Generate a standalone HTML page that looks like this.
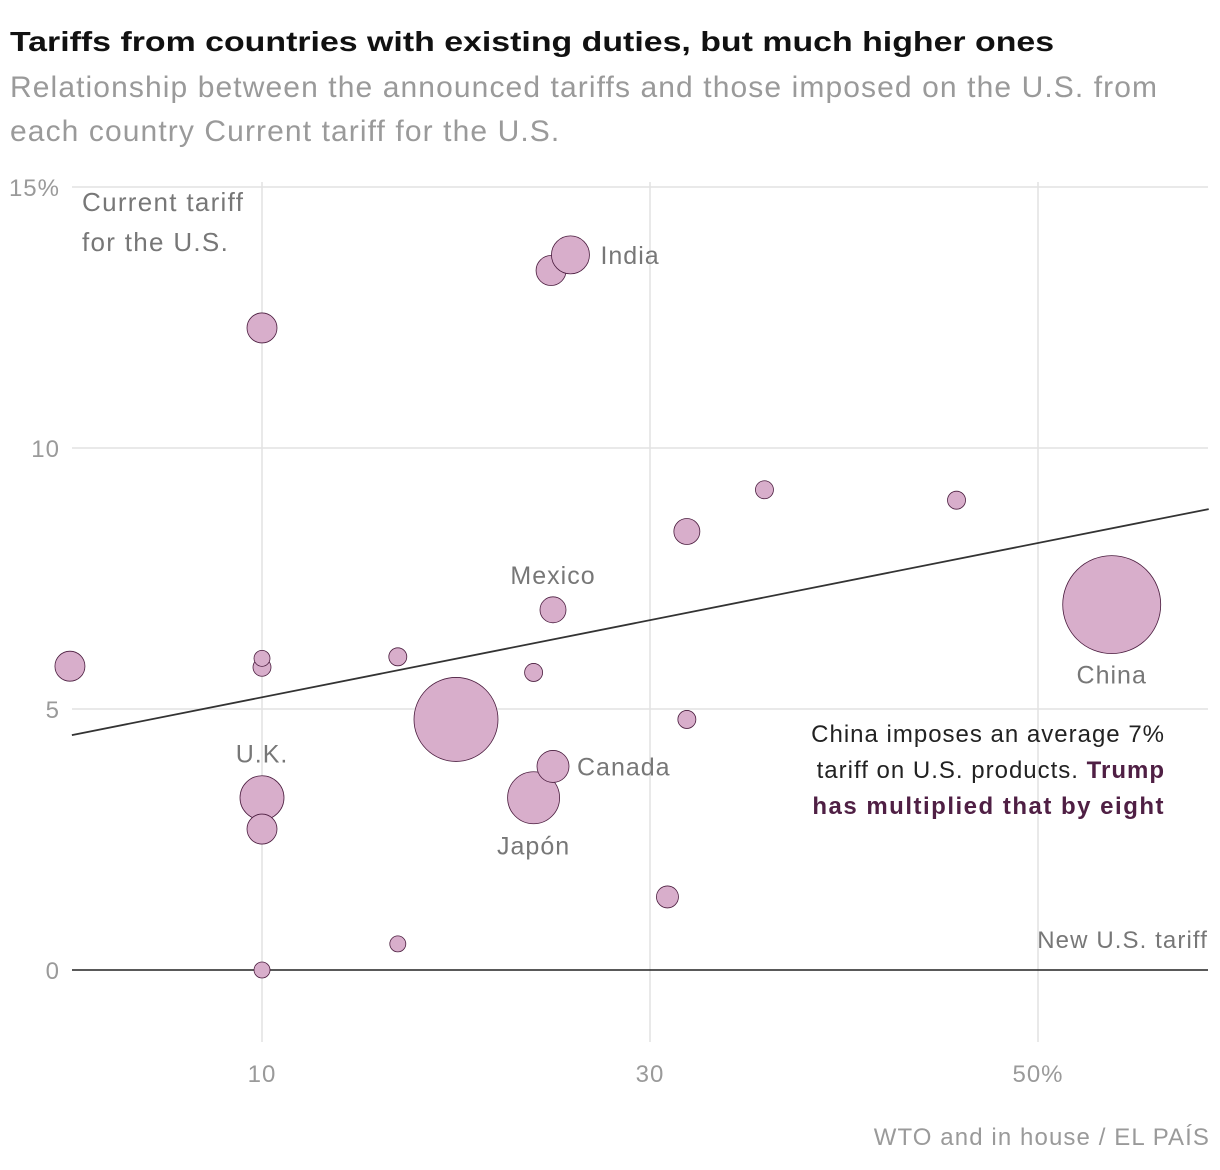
<!DOCTYPE html>
<html><head><meta charset="utf-8"><style>
body{margin:0;background:#fff;font-family:"Liberation Sans",sans-serif;}
#wrap{position:relative;width:1220px;height:1170px;overflow:hidden;}
.t{position:absolute;white-space:nowrap;}
svg text{letter-spacing:1px;}
</style></head><body>
<div id="wrap">
<div class="t" style="left:10px;top:26px;font-size:28px;font-weight:bold;color:#111;transform:scaleX(1.21);transform-origin:left top">Tariffs from countries with existing duties, but much higher ones</div>
<div class="t" style="left:10px;top:66px;font-size:30px;line-height:44px;color:#9a9a9a;white-space:normal;width:1200px;letter-spacing:1.1px">Relationship between the announced tariffs and those imposed on the U.S. from each country Current tariff for the U.S.</div>
<svg id="chart" width="1220" height="1170" style="position:absolute;left:0;top:0"></svg>
<div class="t" style="right:10px;top:1124px;font-size:24px;color:#9a9a9a;letter-spacing:1.1px">WTO and in house / EL PAÍS</div>
</div>
<script>
const xs=[0.1,10,10,10,10,10,10,17,17,20,24,24,25,25,24.9,25.9,30.9,31.9,31.9,35.9,45.8,53.8];
const ys=[5.82,12.3,5.8,5.97,3.3,2.7,0,6.0,0.5,4.8,5.7,3.3,6.9,3.9,13.4,13.7,1.4,8.4,4.8,9.2,9.0,7.0];
const rs=[15,15,9,8,22,15,8,9,8,42,9,26,13,16,15,19,11,13,9,9,9,49];
const trendX=[0.2,58.8];
const trendY=[4.5,8.83];
const xTicks=[10,30,50];
const xTickLabels=["10","30","50%"];
const yTicks=[0,5,10,15];
const yTickLabels=["0","5","10","15%"];
const labels=[["India",25.9,13.7,30,0,"start"],["Mexico",25,6.9,0,-35,"middle"],["U.K.",10,3.3,0,-44,"middle"],["Canada",25,3.9,24,0,"start"],["Japón",24,3.3,0,48,"middle"],["China",53.8,7.0,0,70,"middle"]];
const X=v=>68+v*19.4, Y=v=>970-v*52.2;
const svg=document.getElementById('chart'),NS='http://www.w3.org/2000/svg';
function mk(t,a,p){const e=document.createElementNS(NS,t);for(const k in a)e.setAttribute(k,a[k]);(p||svg).appendChild(e);return e;}
yTicks.forEach((v,i)=>{
 if(v>0){const l=mk('line',{x1:72,x2:1208,y1:Y(v),y2:Y(v),stroke:'#e2e2e2','stroke-width':1.5});
 
 }
 const t=mk('text',{x:60,y:Y(v)+9,'text-anchor':'end','font-size':24,fill:'#9a9a9a'});t.textContent=yTickLabels[i];
 
 
});
xTicks.forEach((v,i)=>{
 const l=mk('line',{x1:X(v),x2:X(v),y1:182,y2:1042,stroke:'#e2e2e2','stroke-width':1.5});
 
 
 const t=mk('text',{x:X(v),y:1082,'text-anchor':'middle','font-size':24,fill:'#9a9a9a'});t.textContent=xTickLabels[i];
 
 
});
const z=mk('line',{x1:72,x2:1208,y1:Y(0),y2:Y(0),stroke:'#222','stroke-width':1.5});


xs.forEach((v,i)=>{
 const c=mk('circle',{cx:X(v),cy:Y(ys[i]),r:rs[i],fill:'#d8aecb',stroke:'#4a1c3e','stroke-width':0.8});
 
 
});
const tl=mk('line',{x1:X(trendX[0]),y1:Y(trendY[0]),x2:X(trendX[1]),y2:Y(trendY[1]),stroke:'#333','stroke-width':1.8});


labels.forEach(L=>{
 const t=mk('text',{x:X(L[1])+L[3],y:Y(L[2])+L[4]+9,'text-anchor':L[5],'font-size':25,fill:'#777'});t.textContent=L[0];
 
 
});
function txt(s,x,y,anchor,size,fill,name,weight,ls){const t=mk('text',{x:x,y:y,'text-anchor':anchor,'font-size':size,fill:fill,'font-weight':weight||'normal'});t.textContent=s;
 if(ls!==undefined)t.style.letterSpacing=ls+'px';
 
 return t;}
txt('Current tariff',82,211,'start',26,'#777','y-axis-title','normal',1.3);
txt('for the U.S.',82,251,'start',26,'#777','y-axis-title-line2','normal',1.3);
txt('New U.S. tariff',1208,948,'end',24,'#777','x-axis-title','normal',1.1);
txt('China imposes an average 7%',1165,742,'end',24,'#222','china-annotation-line1','normal',1);
const a2=txt('tariff on U.S. products. ',1165,778,'end',24,'#222','china-annotation-line2','normal',1);
const ts=document.createElementNS(NS,'tspan');ts.setAttribute('font-weight','bold');ts.setAttribute('fill','#4f1f44');ts.textContent='Trump';a2.appendChild(ts);
txt('has multiplied that by eight',1165,814,'end',24,'#4f1f44','china-annotation-line3','bold',1.5);
</script>
</body></html>
